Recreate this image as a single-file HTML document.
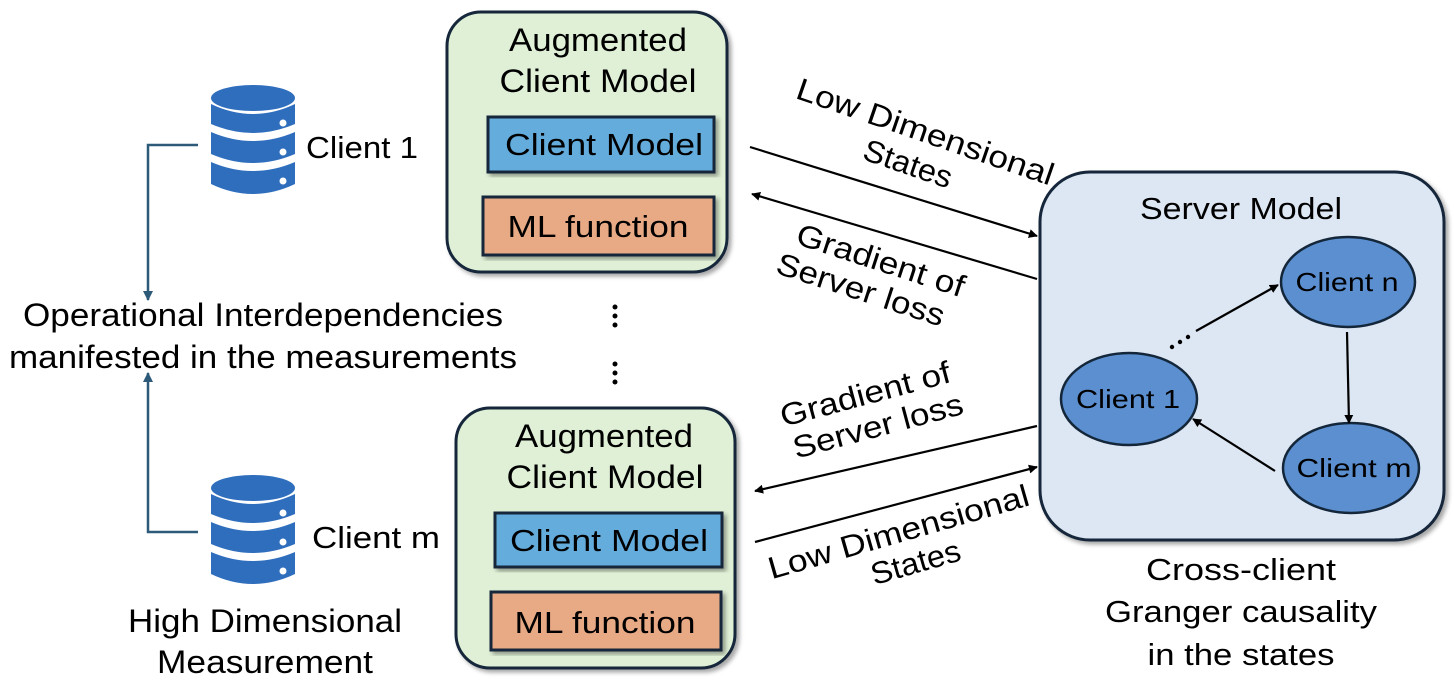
<!DOCTYPE html>
<html><head><meta charset="utf-8"><style>
html,body{margin:0;padding:0;background:#fff;}
svg{display:block;}
text{font-family:"Liberation Sans",sans-serif;fill:#000;}
</style></head><body>
<svg width="1454" height="684" viewBox="0 0 1454 684" xmlns="http://www.w3.org/2000/svg">
<defs>
<marker id="ah" viewBox="0 0 10 10" refX="9" refY="5" markerWidth="9" markerHeight="9" markerUnits="userSpaceOnUse" orient="auto"><path d="M0,0 L10,5 L0,10 z" fill="#000"/></marker>
<marker id="ahb" viewBox="0 0 10 10" refX="9" refY="5" markerWidth="10" markerHeight="10" markerUnits="userSpaceOnUse" orient="auto"><path d="M0,0 L10,5 L0,10 z" fill="#2e5a7a"/></marker>
<filter id="sh" x="-5%" y="-5%" width="115%" height="115%"><feDropShadow dx="3" dy="3" stdDeviation="2" flood-color="#000" flood-opacity="0.35"/></filter>
<g id="db">
 <ellipse cx="42" cy="14" rx="42" ry="13" fill="#2f6ebd"/>
 <path d="M0,20 Q42,40 84,20 L84,40 Q42,58 0,40 Z" fill="#2f6ebd"/>
 <path d="M0,48 Q42,66 84,48 L84,70 Q42,88 0,70 Z" fill="#2f6ebd"/>
 <path d="M0,78 Q42,96 84,78 L84,100 Q42,120 0,100 Z" fill="#2f6ebd"/>
 <circle cx="72" cy="39" r="3.5" fill="#fff"/>
 <circle cx="72" cy="68" r="3.5" fill="#fff"/>
 <circle cx="72" cy="97" r="3.5" fill="#fff"/>
</g>
</defs>

<!-- left side -->
<use href="#db" x="211" y="84"/>
<use href="#db" x="211" y="474"/>
<text x="306" y="158" font-size="31" textLength="112" lengthAdjust="spacingAndGlyphs">Client 1</text>
<text x="312" y="548" font-size="31" textLength="128" lengthAdjust="spacingAndGlyphs">Client m</text>
<path d="M198,145 H148 V300" fill="none" stroke="#2e5a7a" stroke-width="2.5" marker-end="url(#ahb)"/>
<path d="M198,532 H148 V373" fill="none" stroke="#2e5a7a" stroke-width="2.5" marker-end="url(#ahb)"/>
<text x="263" y="326" font-size="32" text-anchor="middle" textLength="480" lengthAdjust="spacingAndGlyphs">Operational Interdependencies</text>
<text x="263" y="368" font-size="32" text-anchor="middle" textLength="508" lengthAdjust="spacingAndGlyphs">manifested in the measurements</text>
<text x="265" y="632" font-size="32" text-anchor="middle" textLength="274" lengthAdjust="spacingAndGlyphs">High Dimensional</text>
<text x="265" y="673" font-size="32" text-anchor="middle" textLength="216" lengthAdjust="spacingAndGlyphs">Measurement</text>

<!-- dots -->
<g fill="#000"><circle cx="615" cy="307" r="2.5"/><circle cx="615" cy="316" r="2.5"/><circle cx="615" cy="325" r="2.5"/>
<circle cx="615" cy="364" r="2.5"/><circle cx="615" cy="373" r="2.5"/><circle cx="615" cy="382" r="2.5"/></g>

<!-- top augmented -->
<rect x="447" y="12" width="280" height="260" rx="34" fill="#dff0d6" stroke="#14273a" stroke-width="3" filter="url(#sh)"/>
<text x="598" y="51" font-size="32" text-anchor="middle" textLength="178" lengthAdjust="spacingAndGlyphs">Augmented</text>
<text x="598" y="92" font-size="32" text-anchor="middle" textLength="197" lengthAdjust="spacingAndGlyphs">Client Model</text>
<rect x="488" y="117" width="226" height="55" fill="#64acdc" stroke="#14273a" stroke-width="3" filter="url(#sh)"/>
<text x="604" y="155" font-size="31" text-anchor="middle" textLength="198" lengthAdjust="spacingAndGlyphs">Client Model</text>
<rect x="483" y="197" width="231" height="58" fill="#e8a985" stroke="#14273a" stroke-width="3" filter="url(#sh)"/>
<text x="598" y="237" font-size="31" text-anchor="middle" textLength="181" lengthAdjust="spacingAndGlyphs">ML function</text>

<!-- bottom augmented -->
<rect x="456" y="408" width="279" height="260" rx="34" fill="#dff0d6" stroke="#14273a" stroke-width="3" filter="url(#sh)"/>
<text x="604" y="447" font-size="32" text-anchor="middle" textLength="178" lengthAdjust="spacingAndGlyphs">Augmented</text>
<text x="605" y="488" font-size="32" text-anchor="middle" textLength="197" lengthAdjust="spacingAndGlyphs">Client Model</text>
<rect x="495" y="513" width="227" height="54" fill="#64acdc" stroke="#14273a" stroke-width="3" filter="url(#sh)"/>
<text x="609" y="551" font-size="31" text-anchor="middle" textLength="198" lengthAdjust="spacingAndGlyphs">Client Model</text>
<rect x="491" y="592" width="230" height="58" fill="#e8a985" stroke="#14273a" stroke-width="3" filter="url(#sh)"/>
<text x="605" y="633" font-size="31" text-anchor="middle" textLength="181" lengthAdjust="spacingAndGlyphs">ML function</text>

<!-- server -->
<rect x="1040" y="172" width="404" height="368" rx="50" fill="#dde7f3" stroke="#14273a" stroke-width="3" filter="url(#sh)"/>
<text x="1241" y="219" font-size="31" text-anchor="middle" textLength="202" lengthAdjust="spacingAndGlyphs">Server Model</text>
<ellipse cx="1348" cy="282" rx="67" ry="45" fill="#5b8fd0" stroke="#14273a" stroke-width="2.5"/>
<text x="1347" y="291" font-size="26" text-anchor="middle" textLength="103" lengthAdjust="spacingAndGlyphs">Client n</text>
<ellipse cx="1129" cy="399" rx="68" ry="46" fill="#5b8fd0" stroke="#14273a" stroke-width="2.5"/>
<text x="1128" y="408" font-size="26" text-anchor="middle" textLength="104" lengthAdjust="spacingAndGlyphs">Client 1</text>
<ellipse cx="1351" cy="468" rx="68" ry="45" fill="#5b8fd0" stroke="#14273a" stroke-width="2.5"/>
<text x="1354" y="477" font-size="26" text-anchor="middle" textLength="115" lengthAdjust="spacingAndGlyphs">Client m</text>
<g fill="#000"><circle cx="1172" cy="347" r="2.2"/><circle cx="1180" cy="342" r="2.2"/><circle cx="1188" cy="337" r="2.2"/></g>
<line x1="1196" y1="331" x2="1278" y2="285" stroke="#000" stroke-width="2.2" marker-end="url(#ah)"/>
<line x1="1347" y1="332" x2="1349" y2="423" stroke="#000" stroke-width="2.2" marker-end="url(#ah)"/>
<line x1="1275" y1="471" x2="1193" y2="419" stroke="#000" stroke-width="2.2" marker-end="url(#ah)"/>
<text x="1241" y="580" font-size="31" text-anchor="middle" textLength="190" lengthAdjust="spacingAndGlyphs">Cross-client</text>
<text x="1241" y="622" font-size="31" text-anchor="middle" textLength="272" lengthAdjust="spacingAndGlyphs">Granger causality</text>
<text x="1241" y="665" font-size="31" text-anchor="middle" textLength="187" lengthAdjust="spacingAndGlyphs">in the states</text>

<!-- connectors -->
<line x1="750" y1="147" x2="1037" y2="236" stroke="#000" stroke-width="2.2" marker-end="url(#ah)"/>
<line x1="1037" y1="279" x2="752" y2="194" stroke="#000" stroke-width="2.2" marker-end="url(#ah)"/>
<line x1="1037" y1="426" x2="755" y2="491" stroke="#000" stroke-width="2.2" marker-end="url(#ah)"/>
<line x1="755" y1="542" x2="1037" y2="467" stroke="#000" stroke-width="2.2" marker-end="url(#ah)"/>

<g transform="translate(918,153) rotate(19)">
<text x="0" y="-12" font-size="31" text-anchor="middle" textLength="270" lengthAdjust="spacingAndGlyphs">Low Dimensional</text>
<text x="-6" y="24" font-size="31" text-anchor="middle" textLength="92" lengthAdjust="spacingAndGlyphs">States</text></g>
<g transform="translate(875,278) rotate(18)">
<text x="0" y="-8" font-size="31" text-anchor="middle" textLength="175" lengthAdjust="spacingAndGlyphs">Gradient of</text>
<text x="-10" y="26" font-size="31" text-anchor="middle" textLength="175" lengthAdjust="spacingAndGlyphs">Server loss</text></g>
<g transform="translate(870,412) rotate(-15)">
<text x="0" y="-8" font-size="31" text-anchor="middle" textLength="175" lengthAdjust="spacingAndGlyphs">Gradient of</text>
<text x="4" y="26" font-size="31" text-anchor="middle" textLength="175" lengthAdjust="spacingAndGlyphs">Server loss</text></g>
<g transform="translate(902,544) rotate(-16)">
<text x="0" y="-2" font-size="31" text-anchor="middle" textLength="270" lengthAdjust="spacingAndGlyphs">Low Dimensional</text>
<text x="8" y="32" font-size="31" text-anchor="middle" textLength="92" lengthAdjust="spacingAndGlyphs">States</text></g>
</svg>
</body></html>
